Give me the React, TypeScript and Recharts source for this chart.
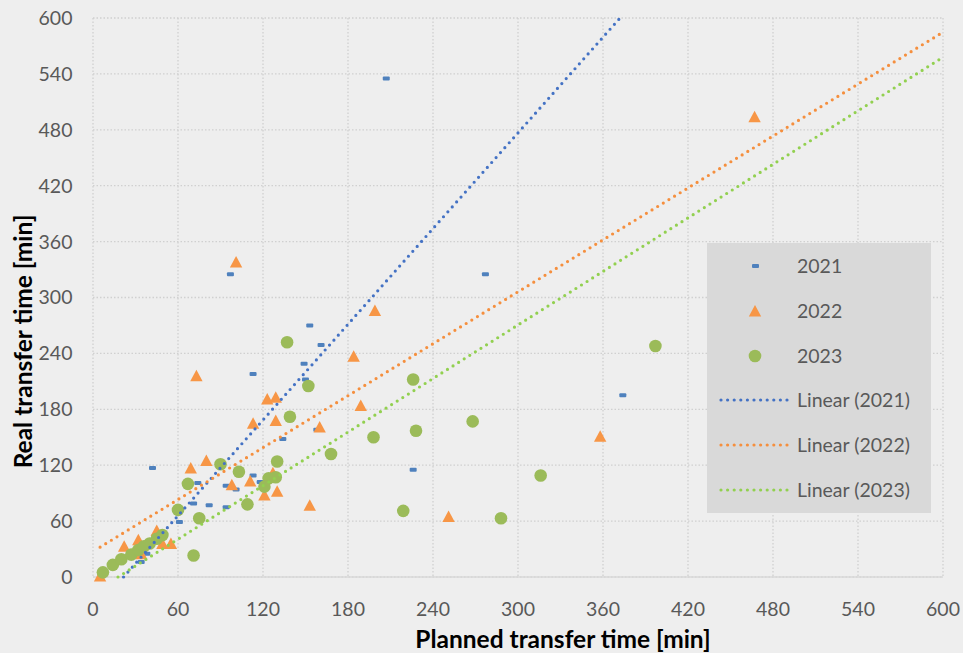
import React from 'react';
import { ScatterChart, Scatter, XAxis, YAxis, CartesianGrid, Label } from 'recharts';

// values (minutes)
const years = ['2021', '2022', '2023'];

const planned2021 = [207, 97, 277, 153, 161, 149, 113, 150, 374, 134, 158, 42, 226, 113, 118, 74, 94, 101, 71, 82, 94, 61, 47, 38, 34];
const real2021 = [535, 325, 325, 270, 249, 229, 218, 212, 195, 148, 158, 117, 115, 109, 102, 101, 98, 94, 79, 77, 75, 59, 43, 25, 16];

const planned2022 = [467, 101, 199, 184, 73, 123, 129, 189, 113, 129, 160, 358, 80, 69, 127, 111, 98, 130, 121, 153, 251, 45, 32, 22, 49, 55, 34, 5];
const real2022 = [494, 338, 286, 237, 216, 191, 193, 184, 165, 168, 161, 151, 125, 117, 112, 103, 99, 92, 88, 77, 65, 50, 40, 33, 36, 36, 25, 1];

const planned2023 = [397, 137, 152, 226, 139, 228, 198, 268, 168, 130, 90, 103, 316, 124, 129, 121, 67, 109, 219, 288, 75, 60, 71, 7, 14, 20, 27, 32, 36, 40, 45, 49];
const real2023 = [248, 252, 205, 212, 172, 157, 150, 167, 132, 124, 121, 113, 109, 106, 107, 97, 100, 78, 71, 63, 63, 72, 23, 5, 13, 19, 24, 29, 33, 36, 41, 45];

// linear trendlines as Excel shows them
const trendSlope = [1.712, 0.929, 0.958];
const trendIntercept = [-36.9, 27.4, -16.9];
const trendFromX = [0, 5, 0];

const axisTicks = [0, 60, 120, 180, 240, 300, 360, 420, 480, 540, 600];

const BLUE = '#4F81BD';
const ORANGE = '#F79646';
const GREEN = '#9BBB59';
const trendColors = ['#4472C4', '#F58F3E', '#92D050'];
const FONT = 'Lato, "Open Sans", sans-serif';

const toPoints = (xs: number[], ys: number[]) => xs.map((x, i) => ({ x, y: ys[i] }));

const trendPoints = (i: number) => {
  const m = trendSlope[i];
  const b = trendIntercept[i];
  const x0 = Math.max(trendFromX[i], -b / m);
  const x1 = Math.min(600, (600 - b) / m);
  return [
    { x: x0, y: m * x0 + b },
    { x: x1, y: m * x1 + b },
  ];
};

const data2021 = toPoints(planned2021, real2021);
const data2022 = toPoints(planned2022, real2022);
const data2023 = toPoints(planned2023, real2023);

const Dash = (p: any) => <rect x={p.cx - 3.5} y={p.cy - 2} width={7} height={4} rx={1} fill={BLUE} />;
const Tri = (p: any) => (
  <polygon points={`${p.cx},${p.cy - 6} ${p.cx + 6.2},${p.cy + 5.5} ${p.cx - 6.2},${p.cy + 5.5}`} fill={ORANGE} />
);
const Dot = (p: any) => <circle cx={p.cx} cy={p.cy} r={6.3} fill={GREEN} />;
const NoShape = () => <g />;

const legendRows = [
  { label: years[0], kind: 'dash' },
  { label: years[1], kind: 'tri' },
  { label: years[2], kind: 'dot' },
  { label: `Linear (${years[0]})`, kind: 'line', color: trendColors[0] },
  { label: `Linear (${years[1]})`, kind: 'line', color: trendColors[1] },
  { label: `Linear (${years[2]})`, kind: 'line', color: trendColors[2] },
];

const LegendIcon = ({ row }: { row: any }) => (
  <svg width={80} height={20} style={{ position: 'absolute', left: 8, top: -10 }}>
    {row.kind === 'dash' && <rect x={37} y={8} width={7} height={4} rx={1} fill={BLUE} />}
    {row.kind === 'tri' && <polygon points="40,4 46.2,15.5 33.8,15.5" fill={ORANGE} />}
    {row.kind === 'dot' && <circle cx={40} cy={10} r={6.3} fill={GREEN} />}
    {row.kind === 'line' && (
      <line x1={6} y1={10} x2={73} y2={10} stroke={row.color} strokeWidth={3.2} strokeDasharray="0 6.6" strokeLinecap="round" />
    )}
  </svg>
);

const ChartLegend = () => (
  <div
    style={{
      position: 'absolute',
      left: 707,
      top: 243,
      width: 224,
      height: 270,
      background: '#d9d9d9',
      fontFamily: FONT,
      fontSize: 19.5,
      color: '#595959',
    }}
  >
    {legendRows.map((row, i) => (
      <div key={row.label} style={{ position: 'absolute', left: 0, top: 23 + i * 44.8, width: '100%' }}>
        <LegendIcon row={row} />
        <div style={{ position: 'absolute', left: 90, top: -12, lineHeight: '24px', whiteSpace: 'nowrap' }}>{row.label}</div>
      </div>
    ))}
  </div>
);

const XTitle = (props: any) => {
  const vb = props.viewBox;
  return (
    <text x={vb.x + vb.width / 2 + 45} y={vb.y + 61} textAnchor="middle" dominantBaseline="central"
      fontFamily={FONT} fontWeight="bold" fontSize={24.5} fill="#000">
      Planned transfer time [min]
    </text>
  );
};

const YTitle = (props: any) => {
  const vb = props.viewBox;
  const cx = vb.x - 11;
  const cy = vb.y + vb.height / 2 + 44;
  return (
    <text x={cx} y={cy} textAnchor="middle" dominantBaseline="central" transform={`rotate(-90, ${cx}, ${cy})`}
      fontFamily={FONT} fontWeight="bold" fontSize={24.5} fill="#000">
      Real transfer time [min]
    </text>
  );
};

const tickStyle = { fill: '#595959', fontSize: 19.5, fontFamily: FONT };

const App: React.FC = () => {
  return (
    <div style={{ position: 'absolute', left: 0, top: 0, width: 963, height: 653, background: '#eeeeee' }}>
      <ScatterChart width={963} height={653} margin={{ top: 18, right: 20, bottom: 0, left: 33 }}>
        <CartesianGrid stroke="#d0d0d0" strokeWidth={1.3} strokeDasharray="1.5 2" />
        <XAxis
          type="number"
          dataKey="x"
          domain={[0, 600]}
          ticks={axisTicks}
          interval={0}
          height={76}
          tickLine={false}
          tickSize={0}
          tickMargin={25}
          axisLine={{ stroke: '#d9d9d9', strokeWidth: 1.5 }}
          tick={tickStyle}
        >
          <Label content={XTitle} />
        </XAxis>
        <YAxis
          type="number"
          dataKey="y"
          domain={[0, 600]}
          ticks={axisTicks}
          interval={0}
          width={60}
          tickLine={false}
          tickSize={0}
          tickMargin={20.5}
          axisLine={false}
          tick={tickStyle}
        >
          <Label content={YTitle} />
        </YAxis>
        <Scatter name={years[0]} data={data2021} shape={Dash} isAnimationActive={false} />
        <Scatter name={years[1]} data={data2022} shape={Tri} isAnimationActive={false} />
        <Scatter name={years[2]} data={data2023} shape={Dot} isAnimationActive={false} />
        {years.map((yr, i) => (
          <Scatter
            key={yr}
            name={`Linear (${yr})`}
            data={trendPoints(i)}
            shape={NoShape}
            line={{ stroke: trendColors[i], strokeWidth: 3.2, strokeDasharray: '0 6.6', strokeLinecap: 'round' }}
            isAnimationActive={false}
          />
        ))}
      </ScatterChart>
      <ChartLegend />
    </div>
  );
};

export default App;
